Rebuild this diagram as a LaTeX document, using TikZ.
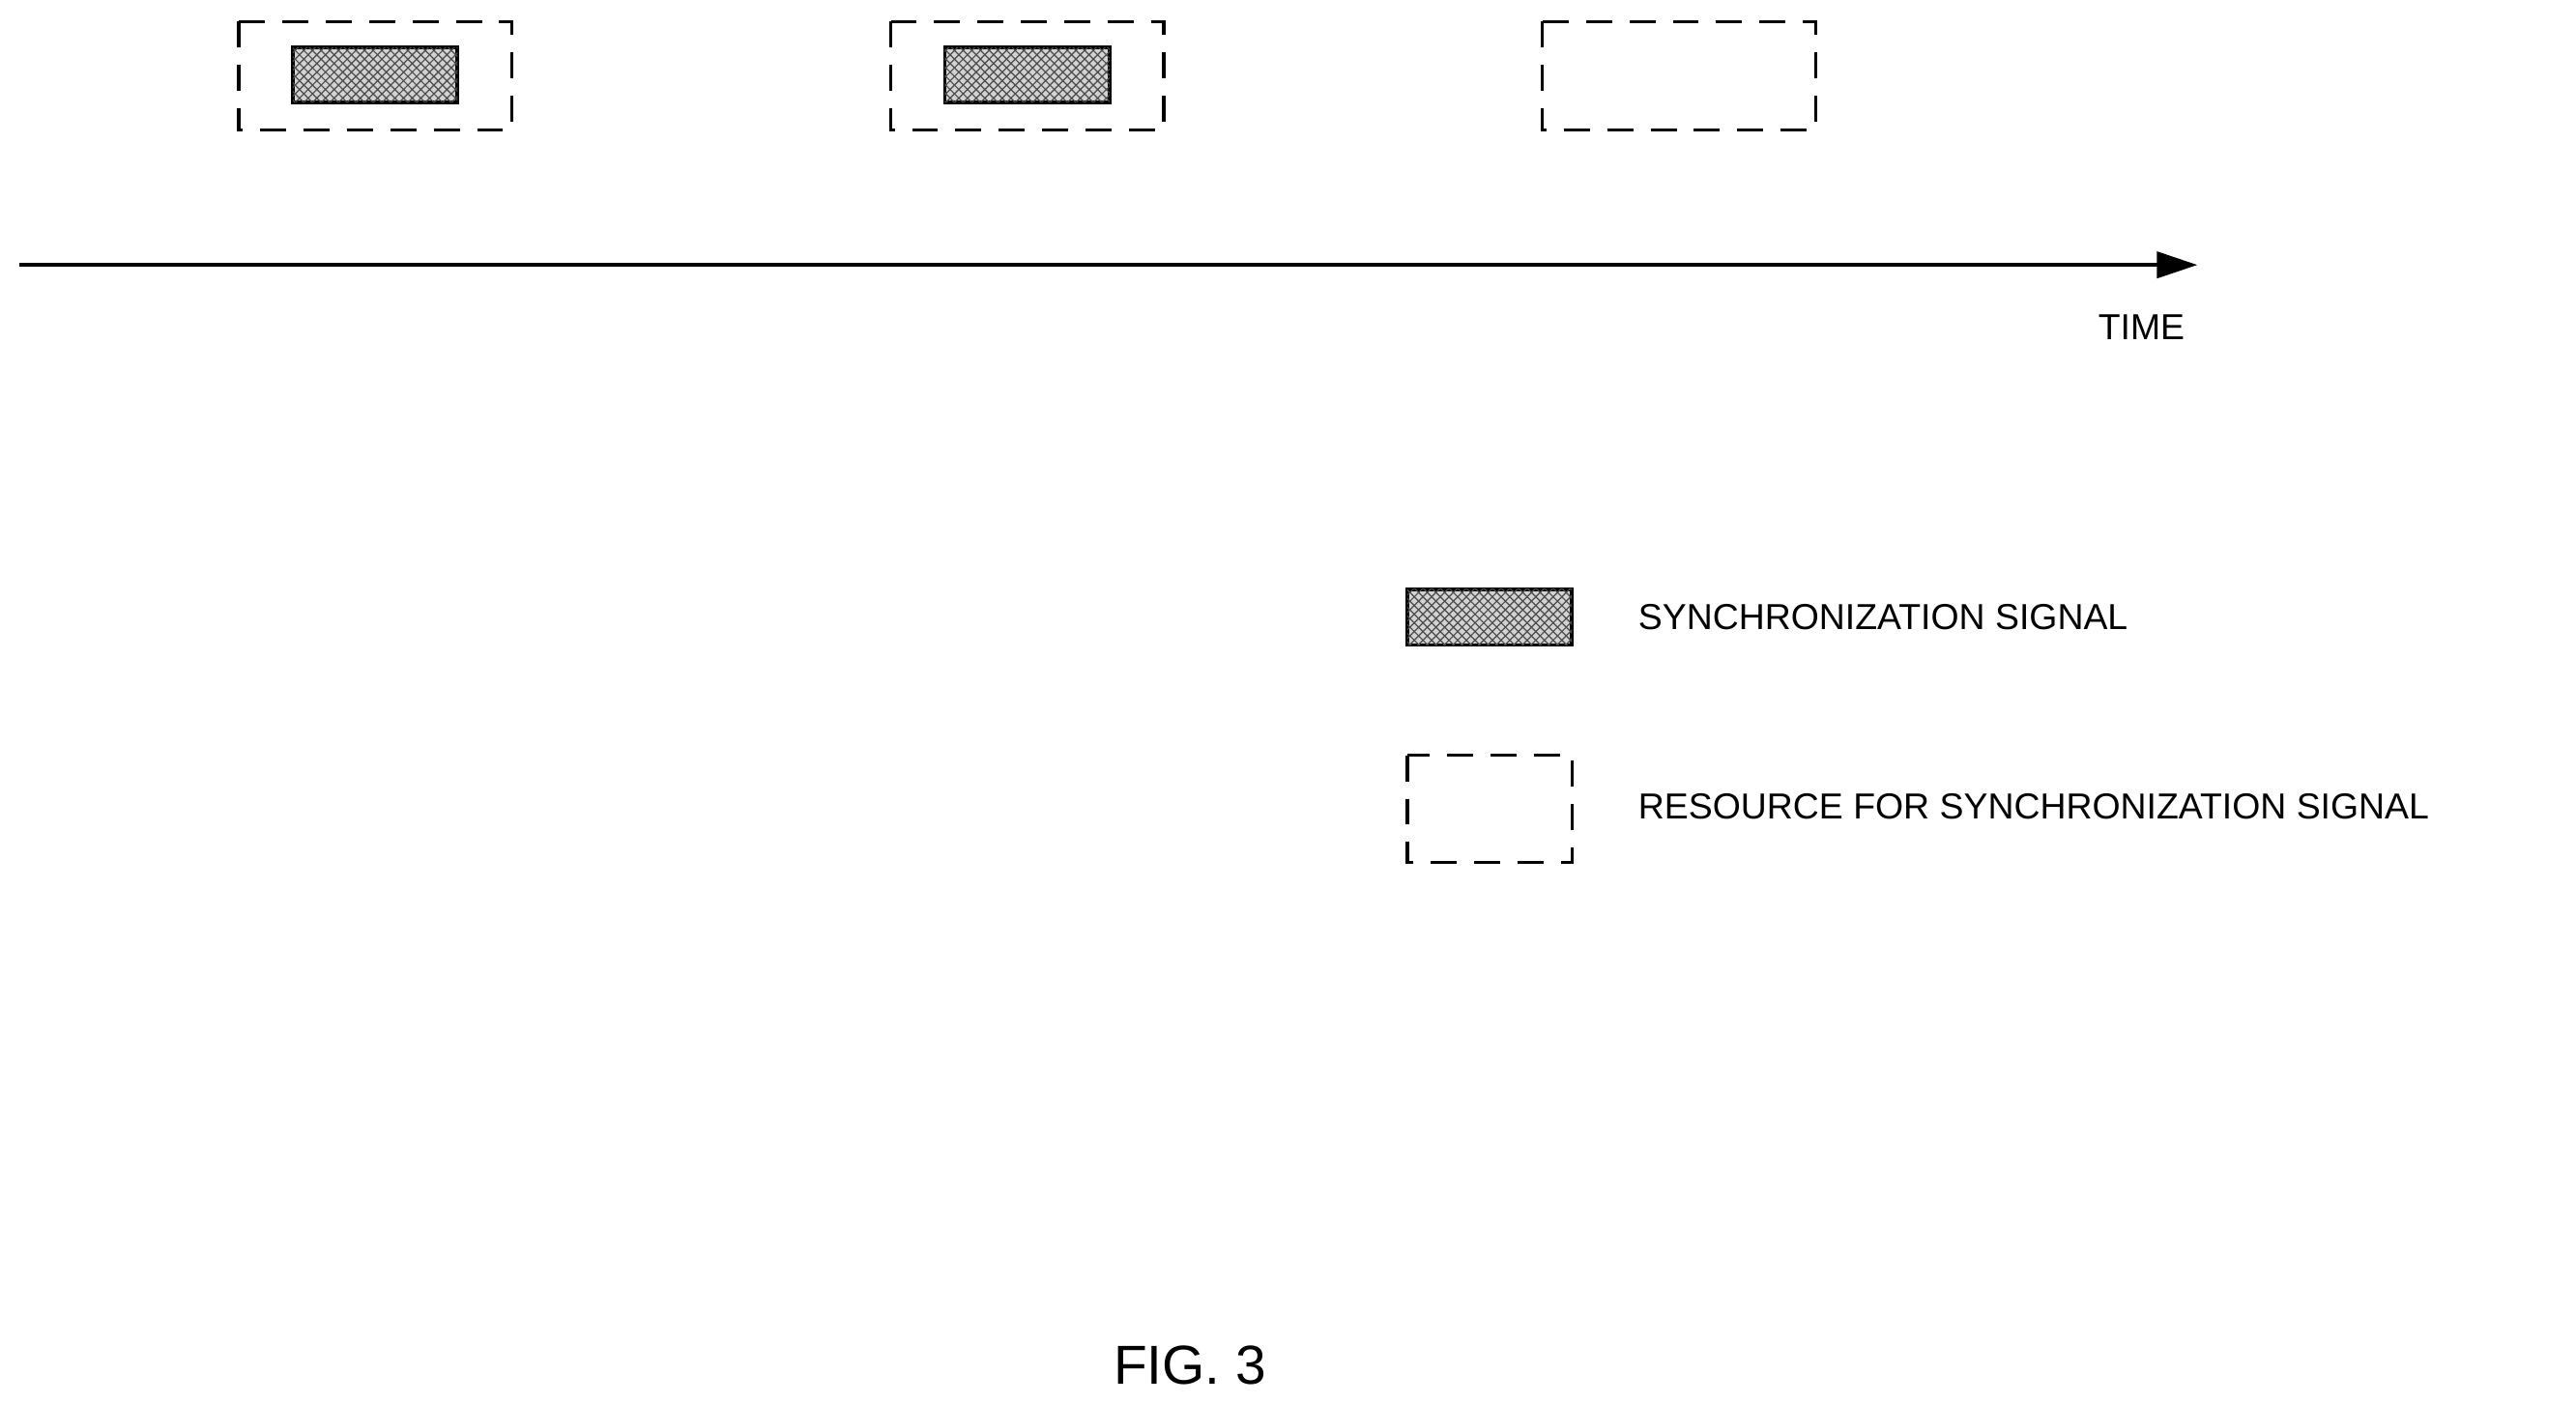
\documentclass[tikz,border=0pt]{standalone}
\usepackage{fontspec}
\setmainfont{Liberation Sans}
\usetikzlibrary{patterns,arrows.meta}
\begin{document}
\begin{tikzpicture}[x=0.02cm,y=-0.02cm,
  res/.style={draw,dashed,line width=1.1pt,dash pattern=on 9pt off 6pt},
  sig/.style={draw,line width=1.3pt,fill=gray!35,postaction={pattern=crosshatch,pattern color=black!70}},
  lbl/.style={font=\fontsize{12.5}{14}\selectfont,inner sep=0pt}]
\useasboundingbox (0,0) rectangle (1565,853);
\draw[res] (145,13) rectangle (311,79);
\draw[res] (541,13) rectangle (707,79);
\draw[res] (937,13) rectangle (1103,79);
\path[sig] (178,29) rectangle (278,62);
\path[sig] (574,29) rectangle (674,62);
\coordinate (a0) at (12,161);
\coordinate (a1) at (1335,161);
\draw[line width=1.4pt,-{Triangle[length=14pt,width=9pt]}] (a0) -- (a1);
\node[lbl] (time) at (1301,199) {TIME};
\path[sig] (855,358) rectangle (955,392);
\node[lbl,anchor=west] (l1) at (995,375) {SYNCHRONIZATION SIGNAL};
\draw[res] (855,459) rectangle (955,524);
\node[lbl,anchor=west] (l2) at (995,490) {RESOURCE FOR SYNCHRONIZATION SIGNAL};
\node[font=\fontsize{19}{22}\selectfont,inner sep=0pt] (fig) at (723,830) {FIG. 3};
\end{tikzpicture}
\end{document}
